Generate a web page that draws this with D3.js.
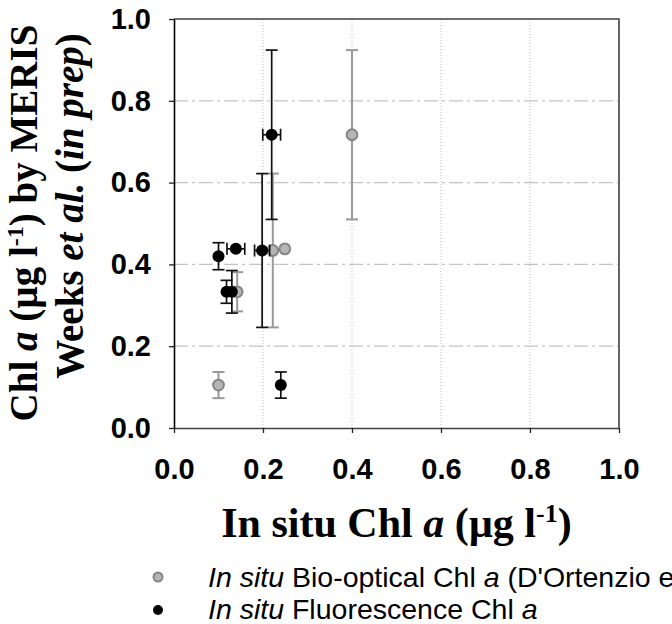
<!DOCTYPE html>
<meta charset="utf-8">
<script src="https://d3js.org/d3.v7.min.js"></script>
<style>
  body { margin: 0; background: #fff; }
  .tick text { font-family: "Liberation Sans", Arial, sans-serif; font-weight: bold; font-size: 29px; fill: #000; }
  .ttl { font-family: "Liberation Serif", "Times New Roman", serif; font-weight: bold; fill: #000; }
  .leg { font-family: "Liberation Sans", Arial, sans-serif; font-size: 28.5px; fill: #000; }
</style>
<body>
<div id="chart"></div>
<script>
// tick values (same on both axes)
var ticks = [0, 0.2, 0.4, 0.6, 0.8, 1.0];
var gridVals = [0.2, 0.4, 0.6, 0.8];

// In situ bio-optical Chl a (grey)
var bioX    = [0.100, 0.400, 0.222, 0.249, 0.142];
var bioY    = [0.105, 0.717, 0.434, 0.438, 0.333];
var bioYErr = [0.032, 0.207, 0.188, 0.000, 0.048];

// In situ fluorescence Chl a (black)
var fluoX    = [0.100, 0.139, 0.198, 0.2195, 0.240, 0.118, 0.130];
var fluoY    = [0.420, 0.438, 0.434, 0.717, 0.105, 0.333, 0.333];
var fluoYErr = [0.033, 0.000, 0.188, 0.207, 0.032, 0.028, 0.052];
var fluoXErr = [0.000, 0.020, 0.017, 0.020, 0.000, 0.000, 0.000];

var legendLabels = ["Bio-optical Chl ", "Fluorescence Chl "];

var W = 672, H = 624;
var svg = d3.select("#chart").append("svg")
    .attr("width", W).attr("height", H);

var x = d3.scaleLinear().domain([0, 1]).range([174, 619]);
var y = d3.scaleLinear().domain([0, 1]).range([428, 19]);

// grid lines
svg.append("g").selectAll("line").data(gridVals).enter().append("line")
    .attr("x1", function(d) { return x(d); }).attr("x2", function(d) { return x(d); })
    .attr("y1", y(0)).attr("y2", y(1))
    .attr("stroke", "#bdbdbd").attr("stroke-width", 1)
    .attr("stroke-dasharray", "1,2");
svg.append("g").selectAll("line").data(gridVals).enter().append("line")
    .attr("y1", function(d) { return y(d); }).attr("y2", function(d) { return y(d); })
    .attr("x1", x(0)).attr("x2", x(1))
    .attr("stroke", "#c4c4c4").attr("stroke-width", 1.2)
    .attr("stroke-dasharray", "14,4,3,4");

// frame top and right
svg.append("path")
    .attr("d", "M" + x(0) + "," + y(1) + "H" + x(1) + "V" + y(0))
    .attr("fill", "none").attr("stroke", "#404040").attr("stroke-width", 1.6);

// axes
var fmt = d3.format(".1f");
var xAxis = svg.append("g")
    .attr("transform", "translate(0," + y(0) + ")")
    .call(d3.axisBottom(x).tickValues(ticks).tickFormat(fmt).tickSize(5).tickSizeOuter(0).tickPadding(25));
var yAxis = svg.append("g")
    .attr("transform", "translate(" + x(0) + ",0)")
    .call(d3.axisLeft(y).tickValues(ticks).tickFormat(fmt).tickSize(5).tickSizeOuter(0).tickPadding(18));
xAxis.select(".domain").attr("stroke", "#404040").attr("stroke-width", 1.6);
yAxis.select(".domain").attr("stroke", "#000").attr("stroke-width", 1.6);
svg.selectAll(".tick line").attr("stroke", "#222").attr("stroke-width", 1.3);

// error bars helper
function errBars(g, xs, ys, yerr, xerr, color, w) {
  var cap = 6;
  xs.forEach(function(xv, i) {
    var cx = x(xv), cy = y(ys[i]);
    if (yerr[i] > 0) {
      var y1 = y(ys[i] - yerr[i]), y2 = y(ys[i] + yerr[i]);
      g.append("line").attr("x1", cx).attr("x2", cx).attr("y1", y1).attr("y2", y2)
        .attr("stroke", color).attr("stroke-width", w);
      [y1, y2].forEach(function(yy) {
        g.append("line").attr("x1", cx - cap).attr("x2", cx + cap).attr("y1", yy).attr("y2", yy)
          .attr("stroke", color).attr("stroke-width", w);
      });
    }
    if (xerr && xerr[i] > 0) {
      var x1 = x(xv - xerr[i]), x2 = x(xv + xerr[i]);
      g.append("line").attr("x1", x1).attr("x2", x2).attr("y1", cy).attr("y2", cy)
        .attr("stroke", color).attr("stroke-width", w);
      [x1, x2].forEach(function(xx) {
        g.append("line").attr("x1", xx).attr("x2", xx).attr("y1", cy - cap).attr("y2", cy + cap)
          .attr("stroke", color).attr("stroke-width", w);
      });
    }
  });
}

// grey series
var gBio = svg.append("g");
errBars(gBio, bioX, bioY, bioYErr, null, "#999", 2);
gBio.selectAll("circle").data(bioX).enter().append("circle")
    .attr("cx", function(d) { return x(d); })
    .attr("cy", function(d, i) { return y(bioY[i]); })
    .attr("r", 5.4)
    .attr("fill", "#b5b5b5").attr("stroke", "#858585").attr("stroke-width", 2);

// black series
var gFl = svg.append("g");
errBars(gFl, fluoX, fluoY, fluoYErr, fluoXErr, "#111", 1.7);
gFl.selectAll("circle").data(fluoX).enter().append("circle")
    .attr("cx", function(d) { return x(d); })
    .attr("cy", function(d, i) { return y(fluoY[i]); })
    .attr("r", 6)
    .attr("fill", "#000");

// y axis title (two lines, rotated)
var yt1 = svg.append("text").attr("class", "ttl")
    .attr("transform", "translate(37,223) rotate(-90)")
    .attr("text-anchor", "middle").attr("font-size", 39);
yt1.append("tspan").text("Chl ");
yt1.append("tspan").attr("font-style", "italic").text("a");
yt1.append("tspan").text(" (\u00b5g l");
yt1.append("tspan").attr("font-size", 24).attr("dy", -14).text("-1");
yt1.append("tspan").attr("dy", 14).text(") by MERIS");

var yt2 = svg.append("text").attr("class", "ttl")
    .attr("transform", "translate(83,206) rotate(-90)")
    .attr("text-anchor", "middle").attr("font-size", 39);
yt2.append("tspan").text("Weeks ");
yt2.append("tspan").attr("font-style", "italic").text("et al.");
yt2.append("tspan").text(" (");
yt2.append("tspan").attr("font-style", "italic").text("in prep");
yt2.append("tspan").text(")");

// x axis title
var xt = svg.append("text").attr("class", "ttl")
    .attr("x", (x(0) + x(1)) / 2).attr("y", 537)
    .attr("text-anchor", "middle").attr("font-size", 42);
xt.append("tspan").text("In situ Chl ");
xt.append("tspan").attr("font-style", "italic").text("a");
xt.append("tspan").text(" (\u00b5g l");
xt.append("tspan").attr("font-size", 26).attr("dy", -15).text("-1");
xt.append("tspan").attr("dy", 15).text(")");

// legend
var leg = svg.append("g");
leg.append("circle").attr("cx", 158).attr("cy", 577).attr("r", 4.5)
    .attr("fill", "#b5b5b5").attr("stroke", "#858585").attr("stroke-width", 2);
leg.append("circle").attr("cx", 158).attr("cy", 610).attr("r", 5)
    .attr("fill", "#000");
var l1 = leg.append("text").attr("class", "leg").attr("x", 208).attr("y", 587);
l1.append("tspan").attr("font-style", "italic").text("In situ");
l1.append("tspan").text(" " + legendLabels[0]);
l1.append("tspan").attr("font-style", "italic").text("a");
l1.append("tspan").text(" (D'Ortenzio et al., 2008)");
var l2 = leg.append("text").attr("class", "leg").attr("x", 208).attr("y", 619);
l2.append("tspan").attr("font-style", "italic").text("In situ");
l2.append("tspan").text(" " + legendLabels[1]);
l2.append("tspan").attr("font-style", "italic").text("a");
</script>
</body>
